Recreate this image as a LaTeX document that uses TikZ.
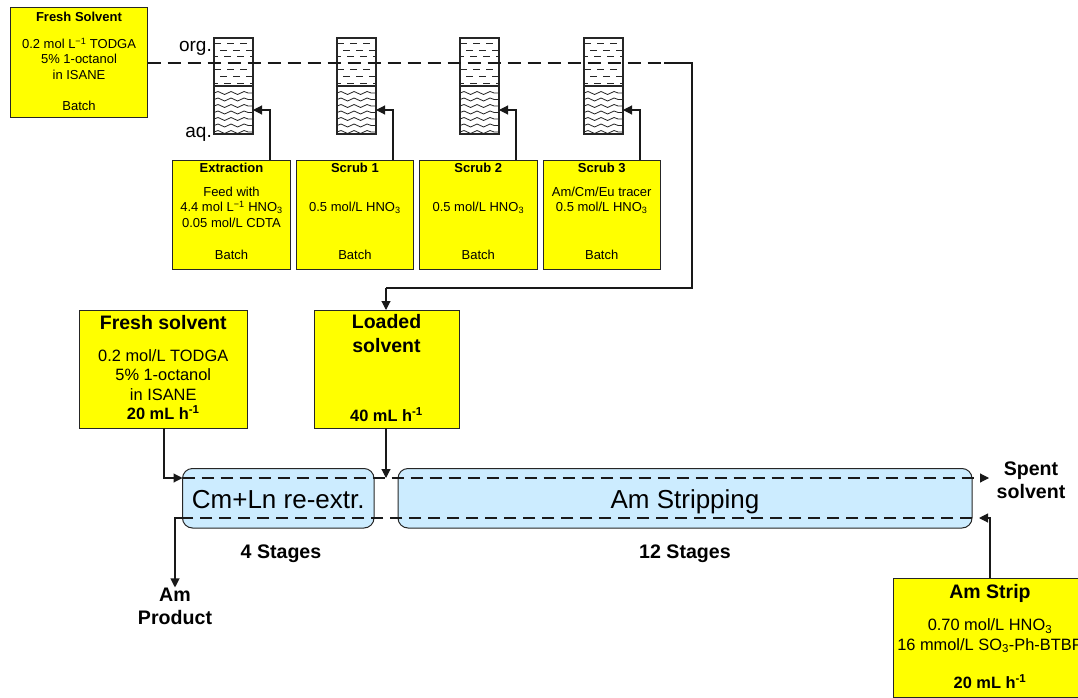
\documentclass[tikz,border=0pt]{standalone}
\usepackage{fontspec}
\setmainfont{Liberation Sans}
\usetikzlibrary{arrows.meta, positioning, calc, decorations.pathmorphing}
\definecolor{feedyellow}{RGB}{255,255,0}
\definecolor{stageblue}{RGB}{204,236,255}
\newcommand{\headbig}{\bfseries\fontsize{19.5}{19.4}\selectfont}
\tikzset{
  feed/.style={draw=black!85,fill=feedyellow,line width=1pt,align=center,inner sep=0pt,outer sep=0pt,font=\fontsize{13}{15.4}\selectfont},
  feedbig/.style={feed,font=\fontsize{16.4}{19.4}\selectfont},
  stagebox/.style={draw=black!85,fill=stageblue,line width=1pt,rounded corners=10pt,minimum height=59.5pt,inner sep=0pt,outer sep=0pt,text height=20pt,text depth=0pt,font=\fontsize{26}{28}\selectfont},
  vessel/.style={draw=black!85,fill=white,line width=1.1pt,minimum width=39pt,minimum height=96pt,inner sep=0pt,outer sep=0pt},
  flow/.style={line width=1.1pt,draw=black!90,-{Triangle[length=9pt,width=9pt]}},
  flowline/.style={line width=1.1pt,draw=black!90},
  flowdash/.style={line width=1.1pt,draw=black!90,dash pattern=on 12pt off 7pt},
  outlabel/.style={font=\fontsize{19.6}{23}\selectfont\bfseries,align=center,inner sep=0pt},
  phaselabel/.style={font=\fontsize{19}{21}\selectfont,inner sep=0pt}
}
\begin{document}
\begin{tikzpicture}[x=1pt,y=-1pt]
\useasboundingbox (0,0) rectangle (1078,698);
% Batch contactors
\node[vessel] (VesA) at (233.5,86) {};
\node[vessel,right=84pt of VesA] (VesB) {};
\node[vessel,right=84pt of VesB] (VesC) {};
\node[vessel,right=85pt of VesC] (VesD) {};
\foreach \ves in {VesA,VesB,VesC,VesD} {
  \begin{scope}
    \clip (\ves.south west) rectangle (\ves.north east);
    \foreach \row/\phase in {44/0,51/7,57/3,70/0,77/7,84/3}
      \draw[black!85,line width=1pt,dash pattern=on 7pt off 6pt,dash phase=\phase pt]
        ($(\ves.west)+(0,\row-86)$) -- ($(\ves.east)+(0,\row-86)$);
    \foreach \row in {93,99.5,106,112.5,119,125.5,132}
      \draw[black!85,line width=0.8pt,decorate,decoration={snake,segment length=13pt,amplitude=1.5pt}]
        ($(\ves.west)+(0,\row-86)$) -- ($(\ves.east)+(0,\row-86)$);
  \end{scope}
  \draw[black!85,line width=1.1pt] (\ves.west) -- (\ves.east);
  \draw[black!85,line width=1.1pt] (\ves.south west) rectangle (\ves.north east);
}
\node[phaselabel,anchor=base east] (OrgLabel) at (212,52) {org.};
\node[phaselabel,anchor=base east] (AqLabel) at (212,138) {aq.};
% Feed boxes
\node[feed,minimum width=137pt,minimum height=110pt] (FreshBatch) at (79,63) {\textbf{Fresh Solvent}\\[11.5pt]0.2 mol L\textsuperscript{−1} TODGA\\5\% 1-octanol\\in ISANE\\~\\[1pt]Batch\\[-12.4pt]~};
\node[feed,minimum width=117.4pt,minimum height=109pt] (Extraction) at (231.5,214.5) {\textbf{Extraction}\\[8.5pt]Feed with\\4.4 mol L\textsuperscript{−1} HNO\textsubscript{3}\\0.05 mol/L CDTA\\~\\[2pt]Batch\\[-9.4pt]~};
\node[feed,minimum width=117.4pt,minimum height=109pt,right=6pt of Extraction] (ScrubA) {\textbf{Scrub 1}\\[8.5pt]~\\0.5 mol/L HNO\textsubscript{3}\\~\\~\\[2pt]Batch\\[-9.4pt]~};
\node[feed,minimum width=117.4pt,minimum height=109pt,right=6pt of ScrubA] (ScrubB) {\textbf{Scrub 2}\\[8.5pt]~\\0.5 mol/L HNO\textsubscript{3}\\~\\~\\[2pt]Batch\\[-9.4pt]~};
\node[feed,minimum width=117.4pt,minimum height=109pt,right=6pt of ScrubB] (ScrubC) {\textbf{Scrub 3}\\[8.5pt]Am/Cm/Eu tracer\\0.5 mol/L HNO\textsubscript{3}\\~\\~\\[2pt]Batch\\[-9.4pt]~};
\node[feedbig,minimum width=168.5pt,minimum height=118pt] (FreshFlow) at (163.25,369) {{\headbig Fresh solvent}\\[12.6pt]0.2 mol/L TODGA\\5\% 1-octanol\\in ISANE\\\textbf{20 mL h\textsuperscript{-1}}\\[-16.4pt]~};
\node[feedbig,minimum width=145pt,minimum height=118pt] (Loaded) at (386.5,369) {{\headbig Loaded}\\[4.6pt]{\headbig solvent}\\~\\~\\[11pt]\textbf{40 mL h\textsuperscript{-1}}\\[-17.4pt]~};
\node[feedbig,minimum width=194pt,minimum height=119pt] (AmStrip) at (990,637.5) {{\headbig Am Strip}\\[13pt]0.70 mol/L HNO\textsubscript{3}\\16 mmol/L SO\textsubscript{3}-Ph-BTBP\\~\\\textbf{20 mL h\textsuperscript{-1}}\\[-17.4pt]~};
% Stages
\node[stagebox,minimum width=191.5pt] (ReExtr) at (278.25,498.25) {Cm+Ln re-extr.};
\node[stagebox,minimum width=574pt] (AmStrp) at (685,498.25) {Am Stripping};
\node[outlabel,anchor=base] (StagesA) at (281,558) {4 Stages};
\node[outlabel,anchor=base] (StagesB) at (685,558) {12 Stages};
\node[outlabel] (Product) at (175,606) {Am\\Product};
\node[outlabel] (Spent) at (1031,480) {Spent\\solvent};
% Free ends of the flows
\coordinate (SolvIn) at (ReExtr.west |- 0,478);
\coordinate (SolvOut) at (989,478);
\coordinate (AqIn) at (979,518);
\coordinate (AqEnd) at (AmStrp.east |- 0,518);
\coordinate (AqLeft) at (ReExtr.west |- 0,518);
\coordinate (OrgEnd) at (664,63);
\coordinate (Turn) at (692,288);
% Solvent through the batch contactors
\draw[flowdash,dash pattern=on 13pt off 7pt] (FreshBatch.east |- OrgEnd) -- (OrgEnd);
\draw[flowline] (OrgEnd) -- (Turn |- OrgEnd) -- (Turn) -- (386,288);
\draw[flow] (386,288) -- (Loaded.north -| 386,0);
\draw[flow] (Extraction.north -| 270,0) |- (VesA.east |- 0,110);
\draw[flow] (ScrubA.north -| 393,0) |- (VesB.east |- 0,110);
\draw[flow] (ScrubB.north -| 516,0) |- (VesC.east |- 0,110);
\draw[flow] (ScrubC.north -| 640,0) |- (VesD.east |- 0,110);
% Continuous part
\draw[flow] (FreshFlow.south -| 164,0) |- (SolvIn);
\draw[flow] (Loaded.south -| 386,0) -- (386,478);
\draw[flowline,-{Triangle[length=9pt,width=9pt]},dash pattern=on 12pt off 7pt] (SolvIn) -- (SolvOut);
\draw[flowdash] (AqEnd) -- (AqLeft);
\draw[flow] (AqLeft) -| (Product.north);
\draw[flow] (AmStrip.north -| 990,0) |- (AqIn);
\end{tikzpicture}
\end{document}
